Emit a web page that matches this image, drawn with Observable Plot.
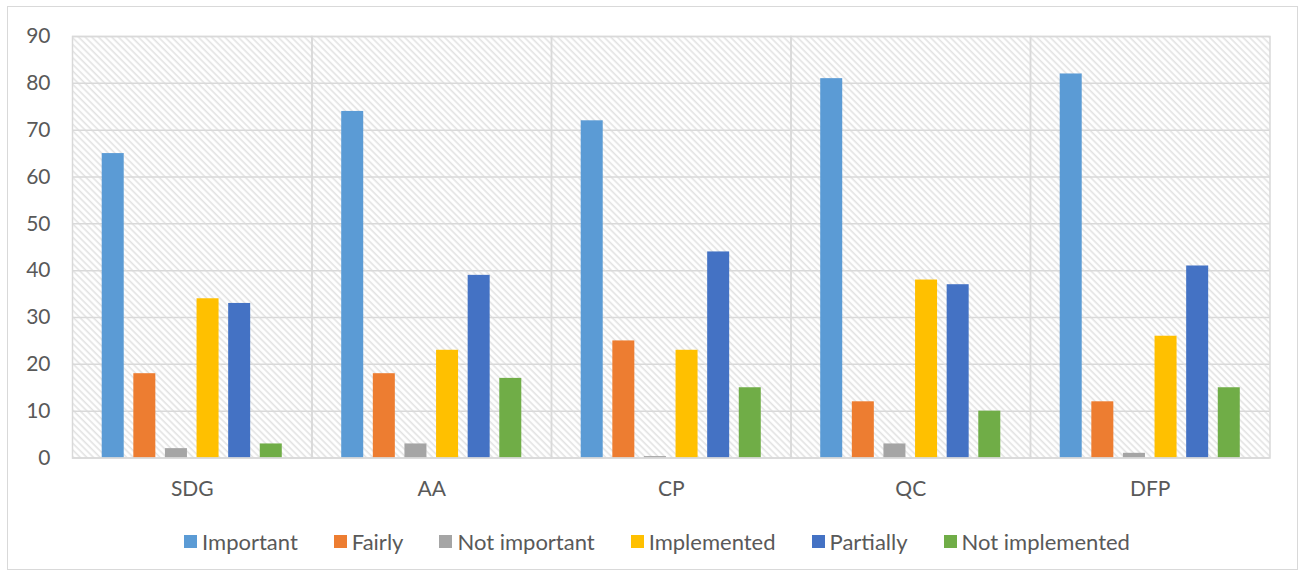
<!DOCTYPE html>
<html>
<head>
<meta charset="utf-8">
<script src="https://cdn.jsdelivr.net/npm/d3@7"></script>
<script src="https://cdn.jsdelivr.net/npm/@observablehq/plot@0.6"></script>
<style>
  html, body { margin: 0; padding: 0; background: #fff; }
  body { width: 1304px; height: 576px; position: relative; overflow: hidden; font-family: Lato, "Open Sans", sans-serif; color: #595959; }
  #border { position: absolute; left: 7px; top: 6px; width: 1291px; height: 564px; box-sizing: border-box; border: 1.5px solid #d9d9d9; pointer-events: none; }
  #chart { position: absolute; left: 0; top: 0; }
  #legend { position: absolute; left: 0; top: 529px; width: 1304px; height: 24px; display: flex; justify-content: center; align-items: center; gap: 36px; font-size: 22px; color: #595959; padding-left: 10px; box-sizing: border-box; }
  .item { display: flex; align-items: center; gap: 5px; white-space: nowrap; }
  .sw { width: 13px; height: 13px; display: inline-block; }
</style>
</head>
<body>
<div id="chart"></div>
<div id="legend"></div>
<div id="border"></div>
<script>
const groups = ["SDG", "AA", "CP", "QC", "DFP"];
const series = ["Important", "Fairly", "Not important", "Implemented", "Partially", "Not implemented"];
const colors = ["#5b9bd5", "#ed7d31", "#a5a5a5", "#ffc000", "#4472c4", "#70ad47"];
const important = [65, 74, 72, 81, 82];
const fairly = [18, 18, 25, 12, 12];
const notImportant = [2, 3, 0.3, 3, 1];
const implemented = [34, 23, 23, 38, 26];
const partially = [33, 39, 44, 37, 41];
const notImplemented = [3, 17, 15, 10, 15];
const yTicks = [0, 10, 20, 30, 40, 50, 60, 70, 80, 90];

const seriesValues = [important, fairly, notImportant, implemented, partially, notImplemented];
const table = [];
groups.forEach((g, gi) => {
  series.forEach((s, si) => {
    table.push({group: g, series: s, value: seriesValues[si][gi]});
  });
});

const plot = Plot.plot({
  width: 1304,
  height: 510,
  marginTop: 36,
  marginLeft: 72,
  marginRight: 34.5,
  marginBottom: 52.5,
  style: { fontFamily: "Lato, 'Open Sans', sans-serif", fontSize: "21px", color: "#595959", background: "transparent" },
  fx: { domain: groups, padding: 0, round: false, axis: "bottom", tickSize: 0, tickPadding: 23, label: null },
  x: { domain: series, paddingInner: 0.304, paddingOuter: 0.94, round: false, axis: null },
  y: { domain: [0, 90], ticks: yTicks, tickSize: 0, tickPadding: 22, label: null, grid: false },
  color: { domain: series, range: colors },
  marks: [
    Plot.frame({ fill: "url(#hatch)" }),
    Plot.gridY(yTicks, { stroke: "#d9d9d9", strokeOpacity: 1, strokeWidth: 1.5 }),
    Plot.barY(table, { fx: "group", x: "series", y: "value", fill: "series" }),
    Plot.frame({ stroke: "#d9d9d9", strokeWidth: 1.5 })
  ]
});

const svg = d3.select(plot);
const defs = svg.insert("defs", ":first-child");
const pat = defs.append("pattern")
  .attr("id", "hatch")
  .attr("patternUnits", "userSpaceOnUse")
  .attr("width", 4.7)
  .attr("height", 4.7)
  .attr("patternTransform", "rotate(-45)");
pat.append("rect").attr("width", 4.7).attr("height", 4.7).attr("fill", "#ffffff");
pat.append("line").attr("x1", 1.2).attr("x2", 1.2).attr("y1", 0).attr("y2", 4.7)
  .attr("stroke", "#e2e2e2").attr("stroke-width", 1.6);

document.getElementById("chart").appendChild(plot);

const legend = d3.select("#legend");
series.forEach((s, i) => {
  const it = legend.append("div").attr("class", "item");
  it.append("span").attr("class", "sw").style("background", colors[i]);
  it.append("span").text(s);
});
</script>
</body>
</html>
